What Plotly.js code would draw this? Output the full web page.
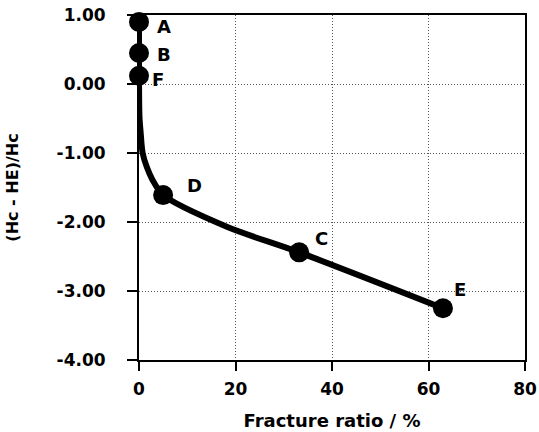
<!DOCTYPE html>
<html>
<head>
<meta charset="utf-8">
<script src="https://cdn.plot.ly/plotly-3.0.1.min.js"></script>
<style>html,body{margin:0;padding:0;background:#fff;}#chart{width:539px;height:432px;}</style>
</head>
<body>
<div id="chart"></div>
<script>
// Sample points
const pointLabels = ["A", "B", "F", "D", "C", "E"];
const pointX = [0, 0, 0, 5, 33.2, 63];
const pointY = [0.90, 0.45, 0.12, -1.61, -2.44, -3.25];

// Fitted curve
const curveX = [0, 0, 0, 0.1, 0.35, 0.75, 1.6, 2.8, 5, 18.2, 33.2, 63];
const curveY = [0.90, 0.45, 0.12, -0.48, -0.71, -1.00, -1.20, -1.39, -1.61, -2.07, -2.44, -3.25];

// Axis ticks
const xTicks = [0, 20, 40, 60, 80];
const yTicks = [-4, -3, -2, -1, 0, 1];
const yTickText = ["-4.00", "-3.00", "-2.00", "-1.00", "0.00", "1.00"];

// Label offsets in pixels (styling)
const labelShiftX = [25, 25, 19, 31, 22, 17];
const labelShiftY = [-5, -2, -4, 10, 14, 19];

const FONT = "DejaVu Sans";

const traces = [
  {
    x: curveX, y: curveY, type: "scatter", mode: "lines",
    line: {color: "#000", width: 6, shape: "spline", smoothing: 0.8},
    cliponaxis: false, hoverinfo: "skip", showlegend: false
  },
  {
    x: pointX, y: pointY, type: "scatter", mode: "markers",
    marker: {color: "#000", size: 20},
    cliponaxis: false, showlegend: false
  }
];

const annotations = pointLabels.map((t, i) => ({
  x: pointX[i], y: pointY[i], xref: "x", yref: "y",
  text: "<b>" + t + "</b>", showarrow: false,
  xshift: labelShiftX[i], yshift: labelShiftY[i],
  font: {family: FONT, size: 18, color: "#000"}
}));

const layout = {
  width: 539, height: 432,
  margin: {l: 139, r: 14, t: 15, b: 72, pad: 0},
  paper_bgcolor: "#fff", plot_bgcolor: "#fff",
  showlegend: false,
  font: {family: FONT, color: "#000"},
  xaxis: {
    range: [0, 80], tickvals: xTicks, ticktext: xTicks.map(String),
    showline: true, linecolor: "#000", linewidth: 2, mirror: true,
    ticks: "outside", ticklen: 9, tickwidth: 2, tickcolor: "#000",
    showgrid: true, gridcolor: "#555", griddash: "1px,2px", gridwidth: 1,
    zeroline: false,
    tickfont: {family: FONT, size: 17, color: "#000", weight: "bold"},
    ticklabelstandoff: 4,
    title: {text: "<b>Fracture ratio / %</b>", font: {family: FONT, size: 18, color: "#000"}, standoff: 16}
  },
  yaxis: {
    range: [-4, 1], tickvals: yTicks, ticktext: yTickText,
    showline: true, linecolor: "#000", linewidth: 2, mirror: true,
    ticks: "outside", ticklen: 10, tickwidth: 2, tickcolor: "#000",
    showgrid: true, gridcolor: "#555", griddash: "1px,2px", gridwidth: 1,
    zeroline: false,
    tickfont: {family: FONT, size: 17, color: "#000", weight: "bold"},
    ticklabelstandoff: 18,
    title: {text: "<b>(Hc - HE)/Hc</b>", font: {family: FONT, size: 16, color: "#000"}, standoff: 34}
  },
  annotations: annotations
};

Plotly.newPlot("chart", traces, layout, {displayModeBar: false, staticPlot: true});
</script>
</body>
</html>
